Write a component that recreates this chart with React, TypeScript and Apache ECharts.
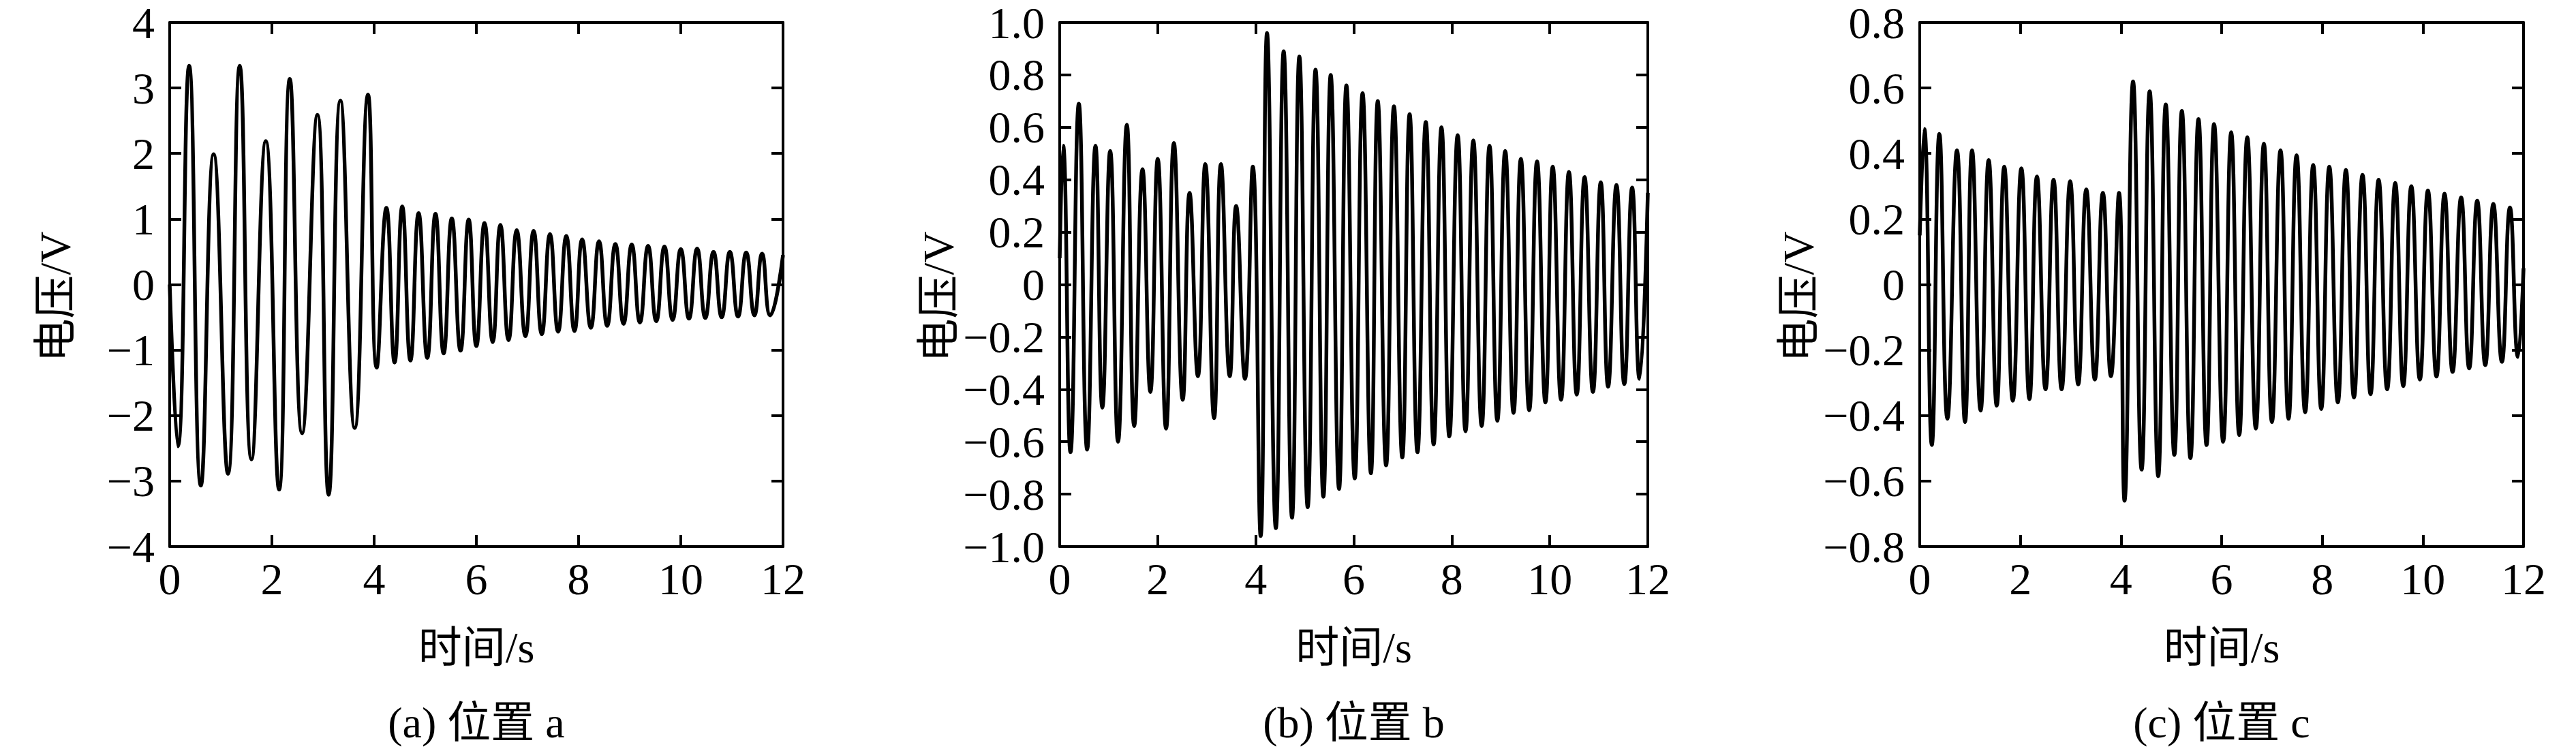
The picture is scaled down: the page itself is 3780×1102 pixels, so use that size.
import React, { useEffect, useRef } from "react";
import * as echarts from "echarts";

// Time axis (s)
const timeTicks = [0, 2, 4, 6, 8, 10, 12];

// Extrema: [time s, voltage V]
const waveA: number[][] = [
  [0, 0], [0.16, -2.47], [0.38, 3.34], [0.61, -3.07], [0.86, 1.99], [1.14, -2.89],
  [1.37, 3.34], [1.6, -2.67], [1.88, 2.19], [2.14, -3.13], [2.35, 3.14], [2.59, -2.27],
  [2.89, 2.59], [3.11, -3.21], [3.34, 2.81], [3.62, -2.19], [3.88, 2.9], [4.05, -1.27],
  [4.24, 1.17], [4.4, -1.19], [4.55, 1.19], [4.71, -1.16], [4.87, 1.09], [5.04, -1.12],
  [5.2, 1.08], [5.36, -1.05], [5.52, 1.01], [5.69, -1.01], [5.85, 0.99], [6.0, -0.94],
  [6.16, 0.94], [6.32, -0.88], [6.47, 0.91], [6.63, -0.85], [6.79, 0.83], [6.96, -0.79],
  [7.12, 0.82], [7.28, -0.76], [7.44, 0.77], [7.6, -0.72], [7.76, 0.74], [7.92, -0.71],
  [8.07, 0.69], [8.24, -0.66], [8.4, 0.66], [8.56, -0.63], [8.72, 0.62], [8.88, -0.6],
  [9.04, 0.61], [9.2, -0.58], [9.36, 0.59], [9.52, -0.56], [9.68, 0.58], [9.84, -0.54],
  [10.0, 0.54], [10.16, -0.52], [10.32, 0.55], [10.48, -0.51], [10.64, 0.5], [10.8, -0.5],
  [10.96, 0.5], [11.12, -0.49], [11.28, 0.49], [11.44, -0.47], [11.59, 0.47], [11.75, -0.47],
  [12.0, 0.45],
];

const waveB: number[][] = [
  [0, 0.1], [0.07, 0.53], [0.22, -0.64], [0.39, 0.69], [0.56, -0.63], [0.73, 0.53],
  [0.87, -0.47], [1.03, 0.51], [1.19, -0.6], [1.37, 0.61], [1.52, -0.54], [1.69, 0.44],
  [1.85, -0.41], [2.0, 0.48], [2.17, -0.55], [2.33, 0.54], [2.51, -0.44], [2.65, 0.35],
  [2.82, -0.35], [2.97, 0.46], [3.15, -0.51], [3.29, 0.46], [3.47, -0.35], [3.6, 0.3],
  [3.78, -0.36], [3.94, 0.45], [4.1, -0.96], [4.23, 0.96], [4.41, -0.93], [4.57, 0.89],
  [4.74, -0.89], [4.89, 0.87], [5.06, -0.85], [5.22, 0.82], [5.38, -0.81], [5.53, 0.8],
  [5.7, -0.78], [5.85, 0.76], [6.02, -0.74], [6.18, 0.73], [6.35, -0.72], [6.49, 0.7],
  [6.66, -0.69], [6.82, 0.68], [6.99, -0.66], [7.14, 0.65], [7.3, -0.64], [7.47, 0.62],
  [7.63, -0.61], [7.79, 0.6], [7.95, -0.58], [8.12, 0.57], [8.28, -0.56], [8.44, 0.55],
  [8.61, -0.54], [8.77, 0.53], [8.93, -0.52], [9.09, 0.51], [9.26, -0.49], [9.41, 0.48],
  [9.58, -0.48], [9.74, 0.47], [9.91, -0.45], [10.06, 0.45], [10.23, -0.44], [10.39, 0.43],
  [10.55, -0.42], [10.71, 0.41], [10.88, -0.41], [11.04, 0.39], [11.19, -0.39], [11.36, 0.38],
  [11.52, -0.38], [11.68, 0.37], [11.83, -0.36], [12.0, 0.35],
];

const waveC: number[][] = [
  [0, 0.15], [0.09, 0.475], [0.24, -0.49], [0.39, 0.46], [0.55, -0.41], [0.74, 0.41],
  [0.9, -0.42], [1.04, 0.41], [1.21, -0.385], [1.37, 0.38], [1.53, -0.37], [1.68, 0.36],
  [1.85, -0.355], [2.02, 0.355], [2.18, -0.35], [2.33, 0.33], [2.5, -0.32], [2.66, 0.32],
  [2.82, -0.32], [2.99, 0.315], [3.15, -0.305], [3.31, 0.29], [3.48, -0.29], [3.64, 0.28],
  [3.8, -0.28], [3.96, 0.28], [4.07, -0.66], [4.24, 0.62], [4.41, -0.565], [4.57, 0.59],
  [4.74, -0.585], [4.89, 0.55], [5.06, -0.52], [5.21, 0.53], [5.38, -0.53], [5.54, 0.505],
  [5.7, -0.49], [5.85, 0.49], [6.03, -0.48], [6.19, 0.465], [6.35, -0.46], [6.51, 0.45],
  [6.68, -0.44], [6.84, 0.43], [7.0, -0.42], [7.17, 0.41], [7.33, -0.41], [7.49, 0.395],
  [7.66, -0.39], [7.82, 0.365], [7.98, -0.38], [8.14, 0.36], [8.31, -0.36], [8.47, 0.35],
  [8.63, -0.345], [8.8, 0.335], [8.96, -0.335], [9.12, 0.32], [9.29, -0.32], [9.45, 0.31],
  [9.61, -0.31], [9.77, 0.3], [9.94, -0.29], [10.1, 0.287], [10.27, -0.281], [10.43, 0.277],
  [10.59, -0.267], [10.76, 0.266], [10.92, -0.256], [11.08, 0.256], [11.24, -0.246], [11.4, 0.246],
  [11.57, -0.236], [11.73, 0.235], [11.89, -0.221], [12.0, 0.05],
];

// Y axis ranges [min, max, step, decimals]
const yRangeA = [-4, 4, 1, 0];
const yRangeB = [-1, 1, 0.2, 1];
const yRangeC = [-0.8, 0.8, 0.2, 1];

const captions = ["(a) 位置 a", "(b) 位置 b", "(c) 位置 c"];
const xName = "时间/s";
const yName = "电压/V";

const FONT = '"Liberation Serif", "Times New Roman", "Noto Sans CJK SC", serif';

function makeFormatter(dec: number) {
  return (v: number) => {
    if (Math.abs(v) < 1e-9) return "0";
    const s = Math.abs(v).toFixed(dec);
    return v < 0 ? "\u2212" + s : s;
  };
}

export default function App() {
  const ref = useRef<HTMLDivElement>(null);
  useEffect(() => {
    if (!ref.current) return;
    const chart = echarts.init(ref.current, null, { renderer: "svg" });
    const layout = [
      { left: 249, width: 900 },
      { left: 1555, width: 863 },
      { left: 2817, width: 886 },
    ];
    const waves = [waveA, waveB, waveC];
    const ranges = [yRangeA, yRangeB, yRangeC];
    const grid: any[] = [];
    const xAxis: any[] = [];
    const yAxis: any[] = [];
    const series: any[] = [];
    const graphic: any[] = [];
    const axisLine = { show: true, onZero: false, lineStyle: { color: "#000", width: 4 } };
    const axisTick = { show: true, inside: true, length: 17, lineStyle: { color: "#000", width: 4 } };
    layout.forEach((g, i) => {
      const [ymin, ymax, ystep, dec] = ranges[i];
      grid.push({ left: g.left, top: 31, width: g.width, height: 771 });
      const xBase = {
        gridIndex: i, type: "value", min: timeTicks[0], max: timeTicks[timeTicks.length - 1],
        interval: timeTicks[1] - timeTicks[0], axisLine, axisTick, splitLine: { show: false },
      };
      xAxis.push({
        ...xBase, position: "bottom",
        axisLabel: { margin: 14, fontSize: 66, fontFamily: FONT, color: "#000" },
        name: xName, nameLocation: "middle", nameGap: 116,
        nameTextStyle: { fontSize: 64, fontFamily: FONT, color: "#000" },
      });
      xAxis.push({ ...xBase, position: "top", axisLabel: { show: false } });
      const yBase = {
        gridIndex: i, type: "value", min: ymin, max: ymax, interval: ystep,
        axisLine, axisTick, splitLine: { show: false },
      };
      yAxis.push({
        ...yBase, position: "left",
        axisLabel: {
          margin: 22, fontSize: 66, lineHeight: 52, fontFamily: FONT, color: "#000",
          formatter: makeFormatter(dec),
        },
        name: yName, nameLocation: "middle", nameGap: 136,
        nameTextStyle: { fontSize: 64, fontFamily: FONT, color: "#000", padding: [0, 36, 0, 0] },
      });
      yAxis.push({ ...yBase, position: "right", axisLabel: { show: false } });
      series.push({
        type: "line", xAxisIndex: 2 * i, yAxisIndex: 2 * i, data: waves[i],
        showSymbol: false, smooth: 0.5, lineStyle: { color: "#000", width: 5.5 },
      });
      graphic.push({
        type: "text", x: g.left + g.width / 2, y: 1060,
        style: {
          text: captions[i], fontSize: 64, fontFamily: FONT, fill: "#000",
          align: "center", verticalAlign: "middle", textAlign: "center", textVerticalAlign: "middle",
        },
      });
    });
    chart.setOption({
      animation: false,
      backgroundColor: "#fff",
      grid, xAxis, yAxis, series, graphic,
    });
    return () => chart.dispose();
  }, []);
  return (
    <div
      ref={ref}
      style={{ position: "fixed", left: 0, top: 0, width: "3780px", height: "1102px", background: "#fff" }}
    />
  );
}
